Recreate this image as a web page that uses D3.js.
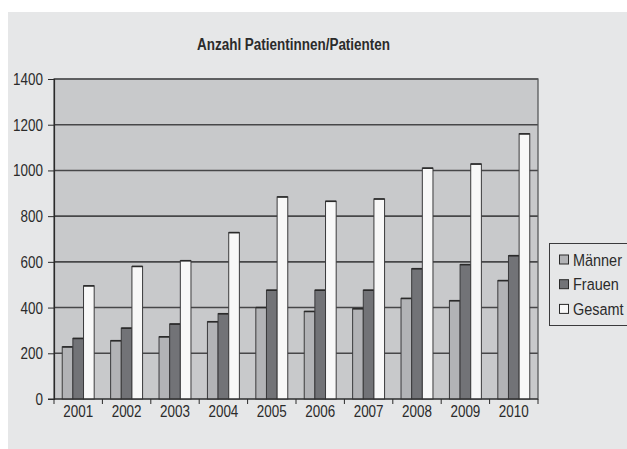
<!DOCTYPE html>
<html><head><meta charset="utf-8">
<script src="https://cdn.jsdelivr.net/npm/d3@7"></script>
<style>
html,body{margin:0;padding:0;background:#fff;}
text{font-family:"Liberation Sans",Arial,sans-serif;fill:#2b2b2b;}
</style></head>
<body><svg id="c" width="627" height="449"></svg>
<script>
const years = ["2001","2002","2003","2004","2005","2006","2007","2008","2009","2010"];
const seriesNames = ["Männer","Frauen","Gesamt"];
const maenner = [228,255,272,338,400,383,395,440,430,518];
const frauen = [265,310,328,373,476,476,476,570,588,627];
const gesamt = [495,580,605,728,884,865,875,1010,1028,1160];
const yTicks = [0,200,400,600,800,1000,1200,1400];
const colors = ["#b2b3b6","#727377","#f8f8f8"];
const title = "Anzahl Patientinnen/Patienten";

const values = [maenner, frauen, gesamt];
const svg = d3.select("#c");
const W = 627, H = 449;
const m = {left:54, right:538, top:79, bottom:399};

function condense(sel, f){
  sel.each(function(){
    const L = this.getComputedTextLength();
    this.setAttribute("textLength", L*f);
    this.setAttribute("lengthAdjust","spacingAndGlyphs");
  });
}

svg.append("rect").attr("x",0).attr("y",0).attr("width",W).attr("height",H).attr("fill","#ffffff");
svg.append("rect").attr("x",8).attr("y",12).attr("width",W-8).attr("height",H-12).attr("fill","#e6e7e8");

const x0 = d3.scaleBand().domain(years).range([m.left, m.right]).padding(0);
const bw = x0.bandwidth();
const x1 = d3.scaleBand().domain(seriesNames).range([bw*0.17, bw*0.83]).padding(0);
const y = d3.scaleLinear().domain([0,1400]).range([m.bottom, m.top]);

// plot area
svg.append("rect").attr("x",m.left).attr("y",m.top).attr("width",m.right-m.left).attr("height",m.bottom-m.top)
  .attr("fill","#c8c9cb");

// gridlines
svg.append("g").selectAll("line").data(yTicks.filter(d=>d>0)).join("line")
  .attr("x1",m.left).attr("x2",m.right).attr("y1",d=>y(d)).attr("y2",d=>y(d))
  .attr("stroke","#474749").attr("stroke-width",1.6);

// plot border
svg.append("rect").attr("x",m.left).attr("y",m.top).attr("width",m.right-m.left).attr("height",m.bottom-m.top)
  .attr("fill","none").attr("stroke","#58595b").attr("stroke-width",1.3);

// bars
const g = svg.append("g");
years.forEach((yr,i)=>{
  seriesNames.forEach((s,j)=>{
    const v = values[j][i];
    g.append("rect")
      .attr("x", x0(yr)+x1(s)).attr("y", y(v))
      .attr("width", x1.bandwidth()).attr("height", y(0)-y(v))
      .attr("fill", colors[j]).attr("stroke","#3a3a3c").attr("stroke-width",1);
    g.append("line")
      .attr("x1", x0(yr)+x1(s)).attr("x2", x0(yr)+x1(s)+x1.bandwidth())
      .attr("y1", y(v)).attr("y2", y(v))
      .attr("stroke","#2a2a2a").attr("stroke-width",1.6);
  });
});

// y axis
const ya = svg.append("g").attr("transform",`translate(${m.left},0)`)
  .call(d3.axisLeft(y).tickValues(yTicks).tickSize(6).tickPadding(5).tickFormat(d3.format("d")));
ya.select(".domain").attr("stroke","#2a2a2a").attr("stroke-width",1.2);
ya.selectAll(".tick line").attr("stroke","#2a2a2a");
ya.selectAll("text").attr("font-size",17).style("font-family",null).attr("fill","#2b2b2b");
condense(ya.selectAll("text"), 0.79);

// x axis
const xa = svg.append("g").attr("transform",`translate(0,${m.bottom})`)
  .call(d3.axisBottom(x0).tickSize(0).tickPadding(5.5));
xa.select(".domain").remove();
xa.selectAll("text").attr("font-size",17).style("font-family",null).attr("fill","#2b2b2b");
condense(xa.selectAll("text"), 0.79);
svg.append("line").attr("x1",m.left-6).attr("x2",m.right).attr("y1",m.bottom).attr("y2",m.bottom)
  .attr("stroke","#2a2a2a").attr("stroke-width",1.2);
const bounds = years.map(d=>x0(d)).concat([x0(years[years.length-1])+bw]);
svg.append("g").selectAll("line").data(bounds).join("line")
  .attr("x1",d=>d).attr("x2",d=>d).attr("y1",m.bottom).attr("y2",m.bottom+5)
  .attr("stroke","#2a2a2a").attr("stroke-width",1);

// title
const t = svg.append("text").attr("x",293.5).attr("y",49.5).attr("text-anchor","middle")
  .attr("font-size",16).attr("font-weight","bold").attr("fill","#2b2b2b").text(title);
t.attr("textLength",193).attr("lengthAdjust","spacingAndGlyphs");

// legend
const lg = svg.append("g");
lg.append("rect").attr("x",549.5).attr("y",243.5).attr("width",90).attr("height",82)
  .attr("fill","#e6e7e8").attr("stroke","#3a3a3c").attr("stroke-width",1);
const legendScale = 0.85;
seriesNames.forEach((s,j)=>{
  const cy = 259.5 + j*24.7;
  lg.append("rect").attr("x",559.5).attr("y",cy-4.5).attr("width",9).attr("height",9)
    .attr("fill",colors[j]).attr("stroke","#2a2a2a").attr("stroke-width",1);
  lg.append("g").attr("transform",`translate(573,${cy+6}) scale(${legendScale},1)`)
    .append("text").attr("x",0).attr("y",0).attr("font-size",17).attr("fill","#2b2b2b").text(s);
});
</script></body></html>
